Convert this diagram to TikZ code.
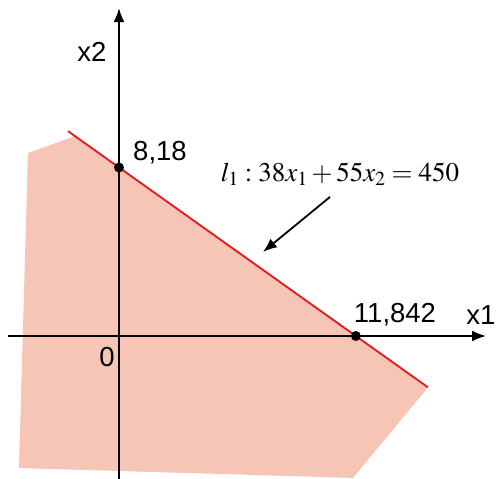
\documentclass[tikz,border=0pt]{standalone}
\usepackage{mathptmx}
\usepackage[no-math]{fontspec}
\setmainfont{Liberation Sans}
\usepackage{tikz}
\usetikzlibrary{arrows.meta}
\definecolor{myred}{RGB}{226,30,36}
\definecolor{myrose}{RGB}{246,197,181}

\begin{document}
\begin{tikzpicture}[x=20pt, y=20.6pt, >={Latex[length=14pt,width=11pt]}, font=\fontsize{27.5}{30}\selectfont]
				\useasboundingbox (-5.95,-6.94) rectangle (18.95,16.31);
				% Zulaessiger Bereich
				\fill[myrose] (-4.55,8.88) -- (-2.2,9.70) -- (15.45,-2.49) -- (11.7,-6.89) -- (-5.0,-6.41) -- cycle;
				% Achsen zeichnen
				\draw[->, line width=1.8pt] (-5.55,0) -- (18.35,0);
				\draw[->, line width=1.8pt] (0,-7.1) -- (0,15.92);
				% Achsen beschriften
				\node (xeins) at (18.1,1.02) {x1};
				\node (xzwei) at (-1.35,13.79) {x2};
				\node (null) at (-0.6,-1.02) {0};
				% Gerade l1
				\draw[myred, line width=1.9pt] (-2.55,{(450+38*2.55)/55}) -- (15.45,{(450-38*15.45)/55});
				% Schnittpunkte
				\coordinate (A) at (0,8.18);
				\coordinate (B) at (11.842,0);
				\fill (A) circle (5pt);
				\fill (B) circle (5pt);
				\node (labA) at (2.05,8.88) {8,18};
				\node (labB) at (13.8,1.02) {11,842};
				% Beschriftung
				\node (gl) at (11.05,7.86) {\fontsize{27}{30}\selectfont $l_1 : 38x_1 + 55x_2 = 450$};
				\coordinate (pfeil) at (10.55,6.75);
				\coordinate (ziel) at (7.2,4.08);
				\draw[->, line width=1.8pt] (pfeil) -- (ziel);
\end{tikzpicture}
\end{document}
